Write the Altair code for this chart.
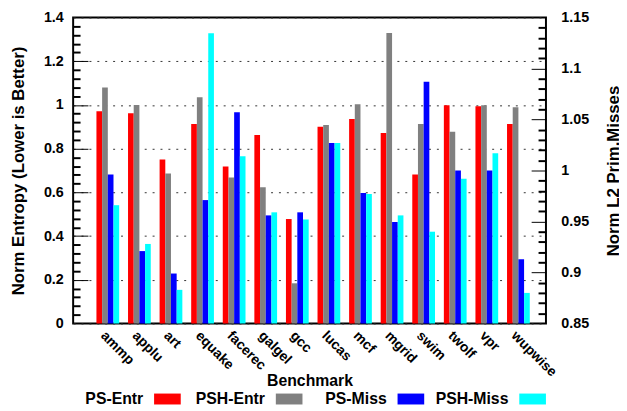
import altair as alt
import pandas as pd

benchmarks = ["ammp", "applu", "art", "equake", "facerec", "galgel", "gcc",
              "lucas", "mcf", "mgrid", "swim", "twolf", "vpr", "wupwise"]
series_names = ["PS-Entr", "PSH-Entr", "PS-Miss", "PSH-Miss"]
series_colors = ["#ff0000", "#808080", "#0000ff", "#00ffff"]

ps_entr = [0.971, 0.962, 0.750, 0.913, 0.718, 0.862, 0.478, 0.900, 0.936, 0.872, 0.682, 0.999, 0.994, 0.913]
psh_entr = [1.080, 1.000, 0.686, 1.035, 0.668, 0.623, 0.184, 0.908, 1.003, 1.329, 0.913, 0.877, 0.999, 0.990]
ps_miss = [0.996, 0.921, 0.899, 0.971, 1.057, 0.956, 0.959, 1.027, 0.978, 0.9495, 1.087, 1.000, 1.000, 0.913]
psh_miss = [0.966, 0.928, 0.883, 1.1346, 1.014, 0.959, 0.952, 1.027, 0.977, 0.956, 0.940, 0.992, 1.017, 0.880]

left_major = [0, 0.2, 0.4, 0.6, 0.8, 1.0, 1.2, 1.4]
left_minor = [round(i * 0.04, 2) for i in range(36) if i % 5 != 0]
right_major = [0.85, 0.9, 0.95, 1.0, 1.05, 1.1, 1.15]
right_minor = [round(0.85 + i * 0.01, 2) for i in range(31) if i % 5 != 0]

rows = []
for i, b in enumerate(benchmarks):
    for s, vals in zip(series_names, [ps_entr, psh_entr, ps_miss, psh_miss]):
        rows.append({"benchmark": b, "series": s, "value": vals[i]})
df = pd.DataFrame(rows)
leg_df = pd.DataFrame({"series": series_names})

FONT = "Liberation Sans"

x_enc = alt.X(
    "benchmark:N", sort=benchmarks, title="Benchmark",
    scale=alt.Scale(paddingInner=0.28, paddingOuter=0.625, align=0.59),
    axis=alt.Axis(labelAngle=45, labelAlign="left", labelBaseline="top",
                  labelPadding=5, ticks=False, tickSize=0, domain=False,
                  labelFont=FONT, labelFontSize=14, labelFontWeight="bold",
                  labelColor="black", titleFont=FONT, titleFontSize=16,
                  titleFontWeight="bold", titleColor="black",
                  titleY=63, titleBaseline="alphabetic"))
xoff = alt.XOffset("series:N", sort=series_names,
                   scale=alt.Scale(domain=series_names, paddingInner=0, paddingOuter=0))
color = alt.Color("series:N", sort=series_names,
                  scale=alt.Scale(domain=series_names, range=series_colors),
                  legend=None)

left_scale = alt.Scale(domain=[0, 1.4], nice=False, zero=True)
right_scale = alt.Scale(domain=[0.85, 1.15], nice=False, zero=False)

left_base = alt.Chart(df).transform_filter(
    alt.FieldOneOfPredicate(field="series", oneOf=series_names[:2]))
right_base = alt.Chart(df).transform_filter(
    alt.FieldOneOfPredicate(field="series", oneOf=series_names[2:]))

left_bars = left_base.mark_bar().encode(
    x=x_enc, xOffset=xoff, color=color,
    y=alt.Y("value:Q", scale=left_scale,
            axis=alt.Axis(orient="left", values=left_major, format="~g",
                          ticks=False, tickSize=0, domain=False, labelPadding=10,
                          labelFont=FONT, labelFontSize=14.5, labelFontWeight="bold",
                          labelColor="black",
                          title="Norm Entropy (Lower is Better)", titleFont=FONT,
                          titleFontSize=17, titleFontWeight="bold", titleColor="black",
                          titlePadding=16,
                          grid=True, gridDash=[2, 6], gridColor="#333333",
                          gridWidth=1, gridOpacity=1)))
left_t1 = left_base.mark_bar(opacity=0).encode(
    x=x_enc, xOffset=xoff,
    y=alt.Y("value:Q", scale=left_scale,
            axis=alt.Axis(orient="left", values=left_major[1:-1], offset=-15,
                          tickSize=15, tickWidth=1, tickColor="black",
                          labels=False, domain=False, grid=False, title=None)))
left_t2 = left_base.mark_bar(opacity=0).encode(
    x=x_enc, xOffset=xoff,
    y=alt.Y("value:Q", scale=left_scale,
            axis=alt.Axis(orient="left", values=left_minor, offset=-7,
                          tickSize=7, tickWidth=2, tickColor="black",
                          labels=False, domain=False, grid=False, title=None)))

right_bars = right_base.mark_bar().encode(
    x=x_enc, xOffset=xoff, color=color,
    y=alt.Y("value:Q", scale=right_scale,
            axis=alt.Axis(orient="right", values=right_major, format="~g",
                          ticks=False, tickSize=0, domain=False, labelPadding=15,
                          labelFont=FONT, labelFontSize=14.5, labelFontWeight="bold",
                          labelColor="black",
                          title="Norm L2 Prim.Misses", titleFont=FONT,
                          titleFontSize=17, titleFontWeight="bold", titleColor="black",
                          titleAngle=270, titlePadding=34, grid=False)),
    y2=alt.Y2(datum=0.85))
right_t1 = right_base.mark_bar(opacity=0).encode(
    x=x_enc, xOffset=xoff,
    y=alt.Y("value:Q", scale=right_scale,
            axis=alt.Axis(orient="right", values=right_major[1:-1], offset=-15,
                          tickSize=15, tickWidth=1, tickColor="black",
                          labels=False, domain=False, grid=False, title=None)))
right_t2 = right_base.mark_bar(opacity=0).encode(
    x=x_enc, xOffset=xoff,
    y=alt.Y("value:Q", scale=right_scale,
            axis=alt.Axis(orient="right", values=right_minor, offset=-8,
                          tickSize=8, tickWidth=2, tickColor="black",
                          labels=False, domain=False, grid=False, title=None)))

left = alt.layer(left_bars, left_t1, left_t2).resolve_axis(y="independent")
right = alt.layer(right_bars, right_t1, right_t2).resolve_axis(y="independent")
main = alt.layer(left, right).resolve_scale(y="independent")

# legend drawn as its own layer: label, then colour box
leg_x = alt.X("series:N", sort=series_names,
              scale=alt.Scale(type="point", domain=series_names, padding=0.442, align=0.876),
              axis=None)
leg_sym = alt.Chart(leg_df).mark_point(
    shape="M-1,-0.41H1V0.41H-1Z", size=729, filled=True, opacity=1, strokeWidth=0
).encode(x=leg_x, y=alt.value(386.5), color=color)
leg_txt = alt.Chart(leg_df).mark_text(
    align="right", baseline="middle", dx=-24.5, font=FONT, fontSize=16,
    fontWeight="bold", color="black"
).encode(x=leg_x, y=alt.value(387), text="series:N")
legend = alt.layer(leg_sym, leg_txt)

chart = alt.layer(main, legend).resolve_scale(x="independent", y="independent").properties(
    width=479, height=310,
    autosize=alt.AutoSizeParams(type="none"),
    padding={"left": 66, "top": 7, "right": 74, "bottom": 86},
    background="white",
).configure_view(stroke="black", strokeWidth=2)

chart.save("out.html", embed_options={"renderer": "svg", "actions": False})
